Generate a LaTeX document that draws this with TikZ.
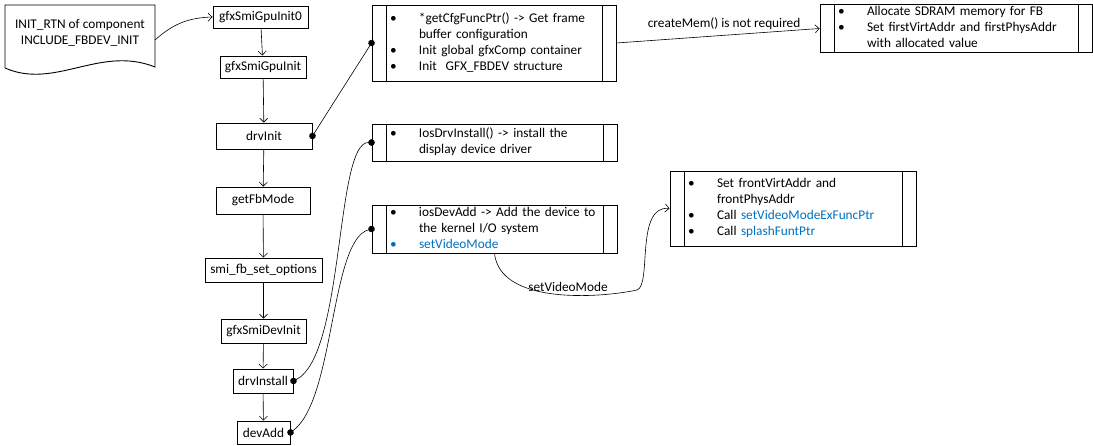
\documentclass[tikz,border=0pt]{standalone}
\usepackage{fontspec}
\setmainfont{Carlito}
\usetikzlibrary{arrows.meta}
\definecolor{linkblue}{RGB}{0,112,192}
\newenvironment{bullets}{\begin{tabular}{@{\hspace{18pt}}p{29pt}@{}l@{}}}{\end{tabular}}

\begin{document}
\begin{tikzpicture}[x=1pt,y=-1pt,font=\fontsize{13.3}{16}\selectfont,
	stepnode/.style={draw,line width=0.9pt,inner sep=0pt},
	proc/.style={draw,line width=0.9pt,inner xsep=0pt,inner ysep=0pt,align=left,
		path picture={\draw[line width=0.9pt]
			([xshift=14pt]path picture bounding box.north west) -- ([xshift=14pt]path picture bounding box.south west)
			([xshift=-14pt]path picture bounding box.north east) -- ([xshift=-14pt]path picture bounding box.south east);}},
	flow/.style={-{Straight Barb[length=4pt,width=8pt]},line width=0.6pt},
	dotlink/.style={{Circle[length=6.5pt]}-{Circle[length=6.5pt]},line width=0.6pt,shorten <=-3.2pt,shorten >=-3.2pt}]
		\useasboundingbox (0,0) rectangle (1093,446);
		\draw[line width=0.9pt] (5,5) -- (155,5) -- (155,67) .. controls (100,45) and (55,90) .. (5,68) -- cycle;
		\node[align=center] (initrtn) at (80,33) {INIT\_RTN of component\\INCLUDE\_FBDEV\_INIT};
		\coordinate (docedge) at (155,40);
		\node[stepnode,minimum width=95pt,minimum height=22pt] (gpuinit0) at (260.5,17) {gfxSmiGpuInit0};
		\node[stepnode,minimum width=86pt,minimum height=22pt] (gpuinit) at (263,67) {gfxSmiGpuInit};
		\node[stepnode,minimum width=96pt,minimum height=26pt] (drvinit) at (264,136) {drvInit};
		\node[stepnode,minimum width=94pt,minimum height=27pt] (fbmode) at (263,200.5) {getFbMode};
		\node[stepnode,minimum width=117pt,minimum height=24pt] (fbopts) at (263.5,270) {smi\_fb\_set\_options};
		\node[stepnode,minimum width=85pt,minimum height=24pt] (devinit) at (263.5,331) {gfxSmiDevInit};
		\node[stepnode,minimum width=60pt,minimum height=24pt] (drvinstall) at (263,381) {drvInstall};
		\node[stepnode,minimum width=53pt,minimum height=23pt] (devadd) at (263.5,432.5) {devAdd};
		\node[proc,text width=244pt,minimum height=76pt] (cfgbox) at (494,43) {\begin{bullets}
			\textbullet & *getCfgFuncPtr() -> Get frame\\
			& buffer configuration\\
			\textbullet & Init global gfxComp container\\
			\textbullet & Init~ GFX\_FBDEV structure
		\end{bullets}};
		\node[proc,text width=245pt,minimum height=37pt] (drvbox) at (494.5,142.5) {\begin{bullets}
			\textbullet & IosDrvInstall() -> install the\\
			& display device driver
		\end{bullets}};
		\node[proc,text width=245pt,minimum height=47pt] (devbox) at (494.5,229) {\begin{bullets}
			\textbullet & iosDevAdd -> Add the device to\\
			& the kernel I/O system\\
			\textcolor{linkblue}{\textbullet} & \textcolor{linkblue}{setVideoMode}
		\end{bullets}};
		\node[proc,text width=272pt,minimum height=47pt] (membox) at (956,28.5) {\begin{bullets}
			\textbullet & Allocate SDRAM memory for FB\\
			\textbullet & Set firstVirtAddr and firstPhysAddr\\
			& with allocated value
		\end{bullets}};
		\node[proc,text width=246pt,minimum height=75pt] (modebox) at (793,208.5) {\begin{bullets}
			\textbullet & Set frontVirtAddr and\\
			& frontPhysAddr\\
			\textbullet & Call \textcolor{linkblue}{setVideoModeExFuncPtr}\\
			\textbullet & Call \textcolor{linkblue}{splashFuntPtr}
		\end{bullets}};
		\node (modenote) at (568,287) {setVideoMode};
		\draw[flow] (docedge) to[bend left=20] (gpuinit0.west);
		\draw[flow] (gpuinit0) -- (gpuinit);
		\draw[flow] (gpuinit) -- (drvinit);
		\draw[flow] (drvinit) -- (fbmode);
		\draw[flow] (fbmode) -- (fbopts);
		\draw[flow] (fbopts) -- (devinit);
		\draw[flow] (devinit) -- (drvinstall);
		\draw[flow] (drvinstall) -- (devadd);
		\draw[dotlink] (drvinit.east) -- (cfgbox.west);
		\draw[dotlink] (drvinstall.east) .. controls (345,355) and (335,142) .. (drvbox.west);
		\draw[dotlink] (devadd.east) .. controls (335,400) and (330,240) .. (devbox.west);
		\draw[flow] (cfgbox.east) -- node[pos=0.53,above=2pt] (memnote) {createMem() is not required} (membox.west);
		\draw[flow] (devbox.south) .. controls (500,305) and (600,298) .. (637,290)
			.. controls (652,285) and (635,205) .. (modebox.west);
	\end{tikzpicture}
\end{document}
